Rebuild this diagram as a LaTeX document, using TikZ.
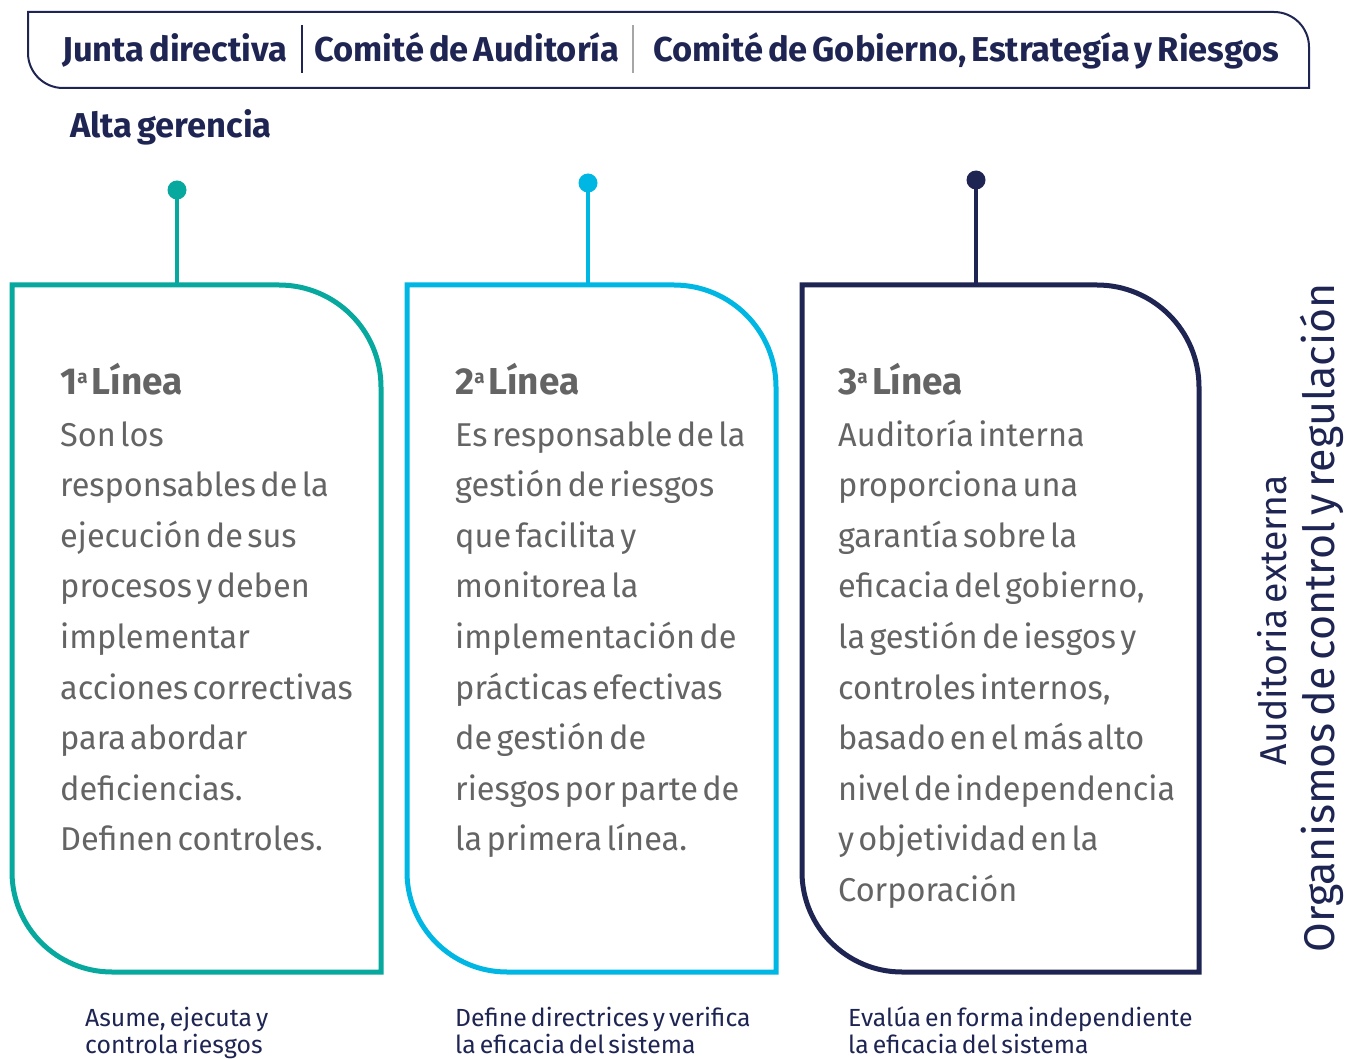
\documentclass[tikz,border=0pt]{standalone}
\usepackage{fontspec}
\setmainfont{Fira Sans}
\IfFontExistsTF{FiraSans-Medium.otf}
  {\newfontfamily\hdfont{FiraSans-Medium.otf}[WordSpace=0.6]}
  {\newfontfamily\hdfont{Fira Sans}[WordSpace=0.6,UprightFont=*-Bold]}
\IfFontExistsTF{FiraSans-Light.otf}
  {\newfontfamily\bodyfont{FiraSans-Light.otf}[WordSpace=0.5,BoldFont=FiraSans-SemiBold.otf]}
  {\newfontfamily\bodyfont{Fira Sans}[FakeStretch=0.985,WordSpace=0.5]}
\newfontfamily\lblfont{Fira Sans}[WordSpace=0.5]
\newfontfamily\sidefont{Fira Sans}[WordSpace=0.6]
\definecolor{cteal}{HTML}{07A89D}
\definecolor{ccyan}{HTML}{00B6E3}
\definecolor{cnavy}{HTML}{1E2553}
\definecolor{cgray}{HTML}{646464}
\tikzset{
  hdtext/.style={anchor=base west, inner sep=0pt, text=cnavy, font=\hdfont\fontsize{34.5}{40}\selectfont},
  heading/.style={anchor=base west, inner sep=0pt, text=cgray, font=\bodyfont\bfseries\fontsize{37.5}{42}\selectfont},
  bodyline/.style={anchor=base west, inner sep=0pt, text=cgray, font=\bodyfont\fontsize{33}{38}\selectfont},
  lbl/.style={anchor=base west, inner sep=0pt, text=cnavy, font=\lblfont\fontsize{24.8}{28}\selectfont},
  side/.style={rotate=90, inner sep=0pt, text=cnavy, font=\sidefont},
  dot/.style={circle, inner sep=0pt, minimum size=19pt},
  stem/.style={line width=4pt},
  boxline/.style={line width=5pt},
}
\newcommand{\ordA}{\raisebox{10pt}{\fontsize{19}{19}\selectfont a}}
\begin{document}
\begin{tikzpicture}[x=1pt,y=-1pt]
\useasboundingbox (0,0) rectangle (1355,1059);
% header band
\draw[cnavy, line width=2pt] (28,12) -- (1274,12) .. controls (1293.3,12) and (1309,27.7) .. (1309,47) -- (1309,88) -- (63,88) .. controls (43.7,88) and (28,72.3) .. (28,53) -- cycle;
\node[hdtext] (h1) at (62,62) {Junta directiva};
\node[hdtext] (h2) at (314,62) {Comité de Auditoría};
\node[hdtext] (h3) at (653,62) {Comité de Gobierno, Estrategía y Riesgos};
\coordinate (d1a) at (302,25); \coordinate (d1b) at (302,73);
\coordinate (d2a) at (633,25); \coordinate (d2b) at (633,73);
\draw[cnavy, line width=1.2pt] (d1a) -- (d1b);
\draw[gray!70, line width=1.2pt] (d2a) -- (d2b);
\node[hdtext] (alta) at (70,138) {Alta gerencia};
% box 1
\draw[cteal, boxline] (12,285) -- (279,285) .. controls (335.3,285) and (381,330.7) .. (381,387) -- (381,972) -- (112,972) .. controls (56.8,972) and (12,927.2) .. (12,872) -- cycle;
% box 2
\draw[ccyan, boxline] (407,285) -- (674,285) .. controls (730.3,285) and (776,330.7) .. (776,387) -- (776,972) -- (507,972) .. controls (451.8,972) and (407,927.2) .. (407,872) -- cycle;
% box 3
\draw[cnavy, boxline] (802,285) -- (1097,285) .. controls (1153.3,285) and (1199,330.7) .. (1199,387) -- (1199,972) -- (902,972) .. controls (846.8,972) and (802,927.2) .. (802,872) -- cycle;
% stems
\node[dot, fill=cteal] (p1) at (177,190) {};
\node[dot, fill=ccyan] (p2) at (588,183) {};
\node[dot, fill=cnavy] (p3) at (976,180) {};
\coordinate (t1) at (177,287);
\coordinate (t2) at (588,287);
\coordinate (t3) at (976,287);
\draw[cteal, stem] (p1.center) -- (t1);
\draw[ccyan, stem] (p2.center) -- (t2);
\draw[cnavy, stem] (p3.center) -- (t3);
% headings
\node[heading] (k1) at (60,394) {1\ordA\ Línea};
\node[heading] (k2) at (455,394) {2\ordA\ Línea};
\node[heading] (k3) at (838,394) {3\ordA\ Línea};
% body
\foreach \t [count=\i] in {Son los, responsables de la, ejecución de sus, procesos y deben, implementar, acciones correctivas, para abordar, deficiencias., Definen controles.}
  \node[bodyline] (a\i) at (60,{446+(\i-1)*50.6}) {\t};
\foreach \t [count=\i] in {Es responsable de la, gestión de riesgos, que facilita y, monitorea la, implementación de, prácticas efectivas, de gestión de, riesgos por parte de, la primera línea.}
  \node[bodyline] (b\i) at (455,{446+(\i-1)*50.6}) {\t};
\foreach \t [count=\i] in {Auditoría interna, proporciona una, garantía sobre la, {eficacia del gobierno,}, la gestión de iesgos y, {controles internos,}, basado en el más alto, nivel de independencia, y objetividad en la, Corporación}
  \node[bodyline] (c\i) at (838,{446+(\i-1)*50.6}) {\t};
% bottom labels
\node[lbl] (l1a) at (85,1026) {Asume, ejecuta y};
\node[lbl] (l1b) at (85,1053) {controla riesgos};
\node[lbl] (l2a) at (455,1026) {Define directrices y verifica};
\node[lbl] (l2b) at (455,1053) {la eficacia del sistema};
\node[lbl] (l3a) at (848,1026) {Evalúa en forma independiente};
\node[lbl] (l3b) at (848,1053) {la eficacia del sistema};
% side texts
\node[side, font=\sidefont\fontsize{37.4}{42}\selectfont] (s1) at (1272,620) {Auditoria externa};
\node[side, font=\sidefont\fontsize{42.9}{48}\selectfont] (s2) at (1322,618) {Organismos de control y regulación};
\end{tikzpicture}
\end{document}
